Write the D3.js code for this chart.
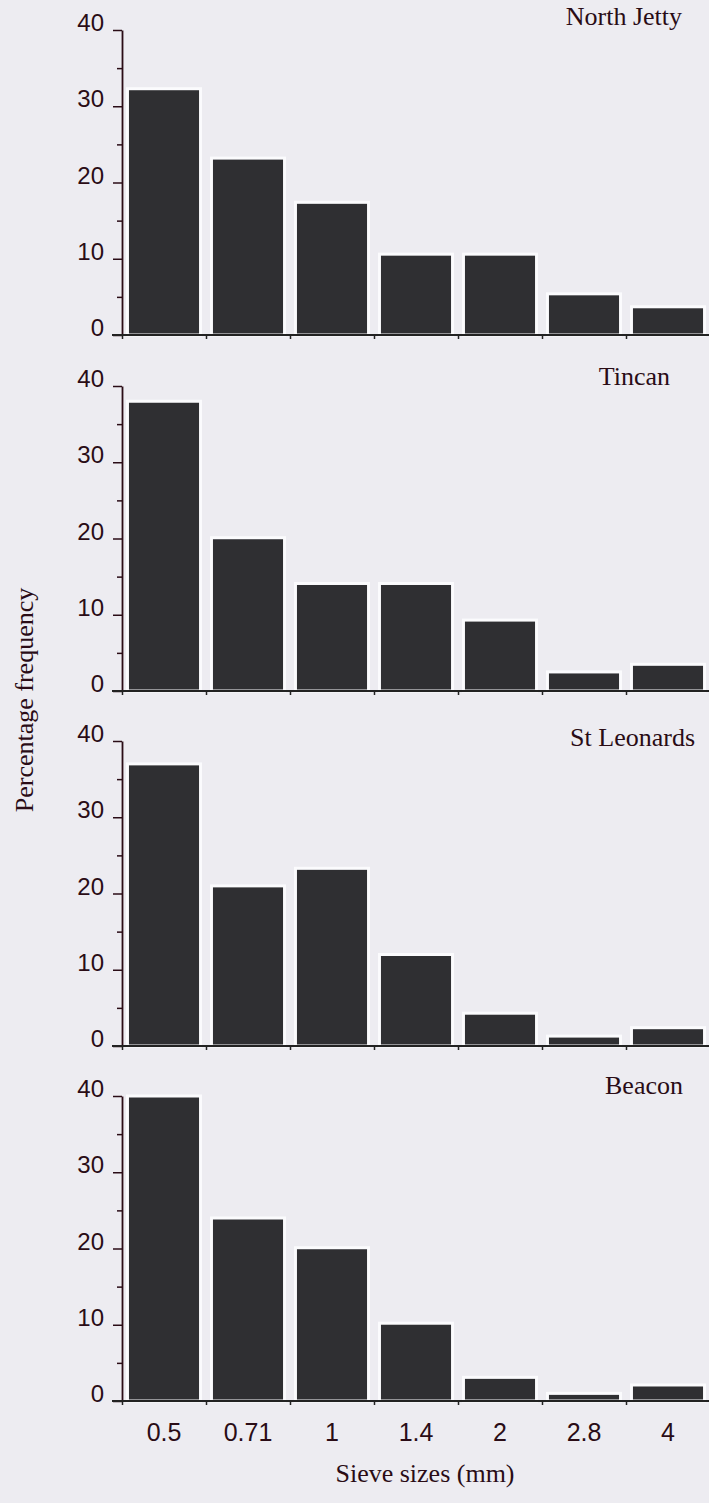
<!DOCTYPE html>
<html>
<head>
<meta charset="utf-8">
<script src="https://cdn.jsdelivr.net/npm/d3@7"></script>
<style>
  body { margin: 0; background: #edecf1; }
  svg { display: block; }
</style>
</head>
<body>
<svg></svg>
<script>
var width = 709;
var height = 1503;

var sieveSizes = ["0.5", "0.71", "1", "1.4", "2", "2.8", "4"];
var sites = ["North Jetty", "Tincan", "St Leonards", "Beacon"];
var northJetty = [32.3, 23.2, 17.4, 10.6, 10.6, 5.4, 3.7];
var tincan = [38.0, 20.1, 14.1, 14.1, 9.3, 2.5, 3.5];
var stLeonards = [37.0, 21.0, 23.3, 12.0, 4.3, 1.3, 2.4];
var beacon = [40.0, 24.0, 20.1, 10.2, 3.1, 1.0, 2.1];
var yTicks = [0, 10, 20, 30, 40];

var siteValues = [northJetty, tincan, stLeonards, beacon];
var panelTop = [30, 386, 741, 1096];
var titleRight = [682, 670, 695, 683];
var titleBase = [25, 385, 746, 1094];
var panelHeight = 305;
var left = 122;
var right = 710;
var ink = "#2a0c16";
var sans = "'Liberation Sans', Arial, sans-serif";
var serif = "'Liberation Serif', 'Times New Roman', serif";

var svg = d3.select("svg")
    .attr("width", width)
    .attr("height", height);

var xScale = d3.scaleBand()
    .domain(sieveSizes)
    .range([left, right])
    .paddingInner(0.13)
    .paddingOuter(0.065);

// tick marks sit on the bin edges, not the bar centres
var edgeScale = d3.scaleLinear()
    .domain([0, sieveSizes.length])
    .range([left, right]);

sites.forEach((site, i) => {
    var top = panelTop[i];
    var yScale = d3.scaleLinear()
        .domain([0, 40])
        .range([top + panelHeight, top]);

    var g = svg.append("g");

    g.selectAll("rect")
        .data(siteValues[i])
        .enter()
        .append("rect")
        .attr("x", (d, j) => xScale(sieveSizes[j]))
        .attr("y", d => yScale(d))
        .attr("width", xScale.bandwidth())
        .attr("height", d => yScale(0) - yScale(d))
        .attr("fill", "#2f2f32")
        .attr("stroke", "#fbfbfd")
        .attr("stroke-width", 3);

    // minor ticks at the 5s
    g.append("g")
        .attr("transform", `translate(${left},0)`)
        .call(d3.axisLeft(yScale).tickValues([5, 15, 25, 35]).tickSize(5).tickFormat(""))
        .call(a => a.select(".domain").remove())
        .selectAll("line").attr("stroke", ink).attr("stroke-width", 1.5);

    var yAxis = g.append("g")
        .attr("transform", `translate(${left},0)`)
        .call(d3.axisLeft(yScale).tickValues(yTicks).tickSize(9).tickSizeOuter(0).tickPadding(9));
    yAxis.select(".domain").attr("stroke", ink).attr("stroke-width", 1.8);
    yAxis.selectAll("line").attr("stroke", ink).attr("stroke-width", 1.5);
    yAxis.selectAll("text")
        .attr("y", -7)
        .attr("fill", ink)
        .style("font-family", sans)
        .style("font-size", "24px");

    var xAxis = g.append("g")
        .attr("transform", `translate(0,${yScale(0)})`)
        .call(d3.axisBottom(edgeScale).tickValues(d3.range(sieveSizes.length + 1)).tickSize(4).tickFormat("").tickSizeOuter(0));
    xAxis.select(".domain")
        .attr("d", `M${left - 10},0H${width}`)
        .attr("stroke", "#222")
        .attr("stroke-width", 2);
    xAxis.selectAll("line").attr("stroke", "#222").attr("stroke-width", 1.5);

    g.append("text")
        .attr("x", titleRight[i])
        .attr("y", titleBase[i])
        .style("text-anchor", "end")
        .style("font-family", serif)
        .style("font-size", "26px")
        .attr("fill", ink)
        .text(site);

    if (i == sites.length - 1) {
        var labels = g.append("g")
            .attr("transform", `translate(0,${yScale(0)})`)
            .call(d3.axisBottom(xScale).tickSize(0).tickPadding(22));
        labels.select(".domain").remove();
        labels.selectAll("text")
            .attr("fill", ink)
            .style("font-family", sans)
            .style("font-size", "25px");
    }
});

svg.append("text")
    .attr("x", 425)
    .attr("y", 1482)
    .style("text-anchor", "middle")
    .style("font-family", serif)
    .style("font-size", "26px")
    .attr("fill", ink)
    .text("Sieve sizes (mm)");

svg.append("text")
    .attr("transform", "rotate(-90)")
    .attr("x", -700)
    .attr("y", 33)
    .style("text-anchor", "middle")
    .style("font-family", serif)
    .style("font-size", "26px")
    .attr("fill", ink)
    .text("Percentage frequency");
</script>
</body>
</html>
